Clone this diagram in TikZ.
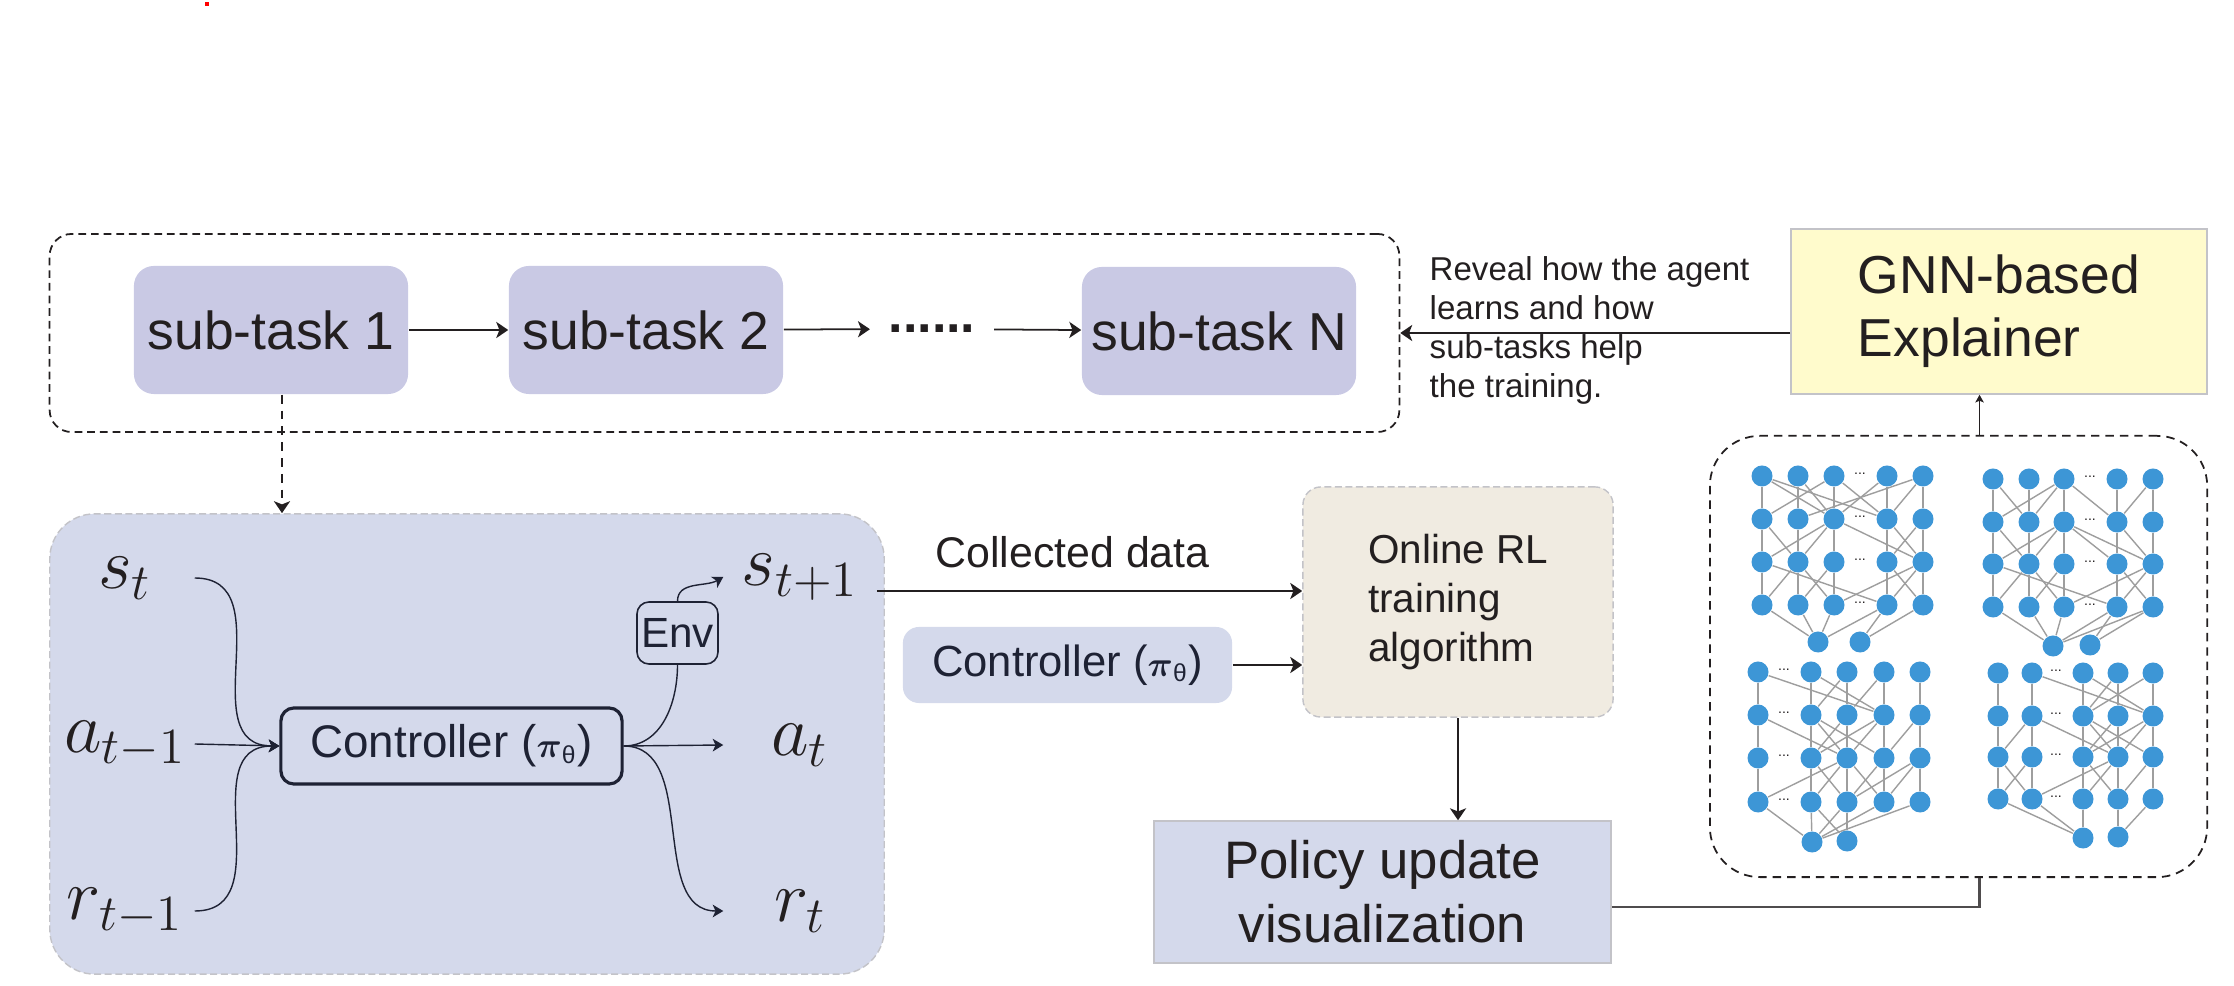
\documentclass[tikz,border=0pt]{standalone}
\usepackage{amsmath}
\usepackage[no-math]{fontspec}
\setmainfont{Liberation Sans}
\usetikzlibrary{arrows.meta, positioning, backgrounds}

\definecolor{taskfill}{RGB}{201,201,228}
\definecolor{panelfill}{RGB}{212,217,235}
\definecolor{panelline}{RGB}{195,195,200}
\definecolor{rlfill}{RGB}{240,235,225}
\definecolor{gnnfill}{RGB}{255,251,204}
\definecolor{nodeblue}{RGB}{61,150,214}
\definecolor{edgegray}{RGB}{158,158,158}
\definecolor{inkdark}{RGB}{35,31,32}
\definecolor{inknavy}{RGB}{30,34,52}

\tikzset{
  arr/.style={-{Stealth[length=3.4pt,width=4.6pt,inset=0.9pt]}, line width=0.5pt, draw=inkdark},
  thinarr/.style={-{Stealth[length=3pt,width=3.6pt,inset=0.8pt]}, line width=0.4pt, draw=inknavy},
  smallarr/.style={-{Stealth[length=2.2pt,width=2.4pt,inset=0.5pt]}, line width=0.35pt, draw=inkdark},
  taskframe/.style={draw=inkdark, line width=0.5pt, dash pattern=on 2.2pt off 1.4pt, rounded corners=0.22cm, minimum width=13.49cm, minimum height=1.98cm, inner sep=0pt},
  subtask/.style={fill=taskfill, rounded corners=0.2cm, minimum width=2.74cm, minimum height=1.28cm, inner sep=0pt, text=inkdark, font=\fontsize{15.2pt}{17pt}\selectfont},
  dotsnode/.style={inner ysep=0pt, inner xsep=0.18cm, text=inkdark, font=\bfseries\fontsize{14.8pt}{17pt}\selectfont},
  panel/.style={fill=panelfill, draw=panelline, dash pattern=on 2pt off 1pt, line width=0.4pt, rounded corners=0.45cm, minimum width=8.34cm, minimum height=4.60cm, inner sep=0pt},
  leftlbl/.style={minimum width=1.38cm, inner sep=0pt, text=inkdark, font=\fontsize{20pt}{24pt}\selectfont},
  rightlbl/.style={minimum width=1.52cm, inner sep=0pt, text=inkdark, font=\fontsize{20pt}{24pt}\selectfont},
  ctrlbox/.style={draw=inknavy, line width=0.9pt, rounded corners=0.13cm, minimum width=3.41cm, minimum height=0.76cm, inner sep=0pt, text=inknavy, font=\fontsize{13pt}{15pt}\selectfont},
  envbox/.style={draw=inknavy, line width=0.45pt, rounded corners=0.12cm, minimum width=0.81cm, minimum height=0.62cm, inner sep=0pt, text=inknavy, font=\fontsize{12pt}{14pt}\selectfont},
  ctrlbox2/.style={fill=panelfill, rounded corners=0.16cm, minimum width=3.29cm, minimum height=0.76cm, inner sep=0pt, text=inknavy, font=\fontsize{12.4pt}{14pt}\selectfont},
  rlbox/.style={fill=rlfill, draw=panelline, dash pattern=on 2pt off 1pt, line width=0.4pt, rounded corners=0.18cm, minimum width=3.10cm, minimum height=2.30cm, align=left, text=inkdark, font=\fontsize{11.5pt}{13.9pt}\selectfont},
  policybox/.style={fill=panelfill, draw=panelline, line width=0.4pt, minimum width=4.57cm, minimum height=1.42cm, align=center, text=inkdark, font=\fontsize{15pt}{18.2pt}\selectfont},
  gnnbox/.style={fill=gnnfill, draw=panelline, line width=0.4pt, minimum width=4.16cm, minimum height=1.65cm, align=left, text=inkdark, font=\fontsize{15.2pt}{17.9pt}\selectfont},
  notetext/.style={align=left, inner sep=0pt, text=inkdark, font=\fontsize{9.4pt}{11.1pt}\selectfont},
  graphframe/.style={draw=inkdark, line width=0.5pt, dash pattern=on 2.4pt off 1.7pt, rounded corners=0.5cm, minimum width=4.97cm, minimum height=4.41cm, inner sep=0pt},
  gnode/.style={circle, fill=nodeblue, minimum size=0.21cm, inner sep=0pt},
  gedge/.style={draw=edgegray, line width=0.4pt},
  gdots/.style={inner sep=0pt, text=inkdark, font=\fontsize{4pt}{5pt}\selectfont}
}

\newcommand{\ctrltext}{Controller ({\fontsize{10pt}{11pt}\selectfont$\boldsymbol{\pi}$\textsubscript{θ}})}

\begin{document}
\begin{tikzpicture}[x=0.01cm, y=0.01cm]
\useasboundingbox (0,0) rectangle (2234,985);
\fill[red] (205,979) rectangle (209,983);

% sub-task chain
\node[taskframe] (tasks) at (724.5,652) {};
\node[subtask] (st1) at (271,655) {sub-task 1};
\node[subtask] (st2) at (646,655) {sub-task 2};
\node[dotsnode] (dots) at (932,656) {......};
\node[subtask] (stN) at (1219,654) {sub-task N};
\draw[arr] (st1) -- (st2);
\draw[arr] (st2) -- (dots);
\draw[arr] (dots) -- (stN);

% explainer
\node[gnnbox] (gnn) at (1999,673.5) {GNN-based\\Explainer};
\node[notetext, anchor=north west] (reveal) at (1429,729) {Reveal how the agent\\learns and how\\sub-tasks help\\the training.};
\draw[arr] (gnn.west |- tasks.east) -- (tasks.east);

% agent loop
\node[panel] (panel) at (467,241) {};
\draw[arr, dash pattern=on 2.5pt off 2pt] ([xshift=0.11cm]st1.south) -- ([xshift=0.11cm]st1.south |- panel.north);
\node[leftlbl] (st) at (125,407) {$s_t$};
\node[leftlbl] (am) at (125,241) {$a_{t-1}$};
\node[leftlbl] (rm) at (125,74) {$r_{t-1}$};
\node[ctrlbox] (ctrl) at (451.5,239) {\ctrltext};
\node[envbox] (env) at (677.5,352) {Env};
\node[rightlbl] (stp) at (800,408) {$s_{t+1}$};
\node[rightlbl] (at) at (800,240) {$a_t$};
\node[rightlbl] (rt) at (800,74) {$r_t$};
\draw[thinarr] (st.east) to[out=0, in=180, looseness=1.2] (ctrl.west);
\draw[thinarr] (am.east) -- (ctrl.west);
\draw[thinarr] (rm.east) to[out=0, in=180, looseness=1.2] (ctrl.west);
\draw[thinarr] (ctrl.east) -- (at.west);
\draw[thinarr] (ctrl.east) to[out=0, in=180] (rt.west);
\draw[inknavy, line width=0.4pt] (ctrl.east) to[out=0, in=-90] (env.south);
\draw[thinarr] (env.north) to[out=90, in=210] (stp.west);

% training
\node[rlbox] (online) at (1458,383) {Online RL\\training\\algorithm};
\node[ctrlbox2] (ctrl2) at (1067.5,320) {\ctrltext};
\node[policybox] (policy) at (1382.5,93) {Policy update\\visualization};
\coordinate (cd) at ([yshift=-0.14cm]stp.east);
\draw[arr] (cd) -- node[pos=0.46, above=0.22cm, inner sep=0pt, text=inkdark, font=\fontsize{12.2pt}{14pt}\selectfont] (cdlabel) {Collected data} (cd -| online.west);
\draw[arr] (ctrl2.east) -- (ctrl2.east -| online.west);
\draw[arr] (online.south) -- (online.south |- policy.north);

% graph panel
\node[graphframe] (graphs) at (1958.5,328.5) {};
\draw[draw=inkdark!80, line width=0.6pt] ([yshift=-0.15cm]policy.east) -| ([xshift=0.21cm]graphs.south);
\draw[smallarr] ([xshift=0.21cm]graphs.north) -- ([xshift=0.21cm]graphs.north |- gnn.south);

\foreach \g/\xa/\xb/\xc/\xd/\xe/\ya/\yb/\yc/\yd in {
  1/1762/1798/1834/1887/1923/509/466/423/380,
  2/1993/2029/2064/2117/2153/506/463/421/378,
  3/1758/1811/1847/1884/1920/313/270/227/183,
  4/1998/2032/2083/2118/2153/312/269/228/186}{
  \foreach \c/\x in {1/\xa,2/\xb,3/\xc,4/\xd,5/\xe}
    \foreach \r/\y in {1/\ya,2/\yb,3/\yc,4/\yd}
      \node[gnode] (g\g-\r-\c) at (\x,\y) {};
}
\foreach \g/\xa/\ya/\xb/\yb in {1/1818/343/1860/343, 2/2053/339/2090/340, 3/1812/143/1847/144, 4/2083/147/2118/148}{
  \node[gnode] (g\g-b1) at (\xa,\ya) {};
  \node[gnode] (g\g-b2) at (\xb,\yb) {};
}
\foreach \g/\x/\ya/\yb/\yc/\yd in {1/1860/509/466/423/380, 2/2090/506/463/421/378, 3/1784/313/270/227/183, 4/2056/312/269/228/186}
  \foreach \r/\y in {1/\ya,2/\yb,3/\yc,4/\yd}
    \node[gdots] (g\g-d\r) at (\x,\y+2) {...};

\begin{scope}[on background layer]
\foreach \g in {1,...,4}
  \foreach \c in {1,...,5}
    \draw[gedge] (g\g-1-\c) -- (g\g-2-\c) -- (g\g-3-\c) -- (g\g-4-\c);
% graph 1
\foreach \a/\b in {1-1/2-4, 1-1/2-3, 2-1/1-3, 2-2/1-5, 1-2/2-3, 1-4/2-3, 1-5/2-4, 1-3/2-4,
  2-1/3-2, 2-3/3-1, 2-3/3-2, 2-3/3-5, 2-5/3-4, 2-4/3-5,
  3-1/4-4, 3-2/4-1, 3-2/4-3, 3-3/4-2, 3-5/4-3, 3-5/4-4, 3-4/4-5,
  4-1/b1, 4-2/b1, 4-3/b1, 4-4/b1, 4-4/b2, 4-5/b2}
  \draw[gedge] (g1-\a) -- (g1-\b);
% graph 2
\foreach \a/\b in {1-1/2-2, 1-3/2-1, 1-3/2-2, 1-3/2-4, 1-5/2-4,
  2-1/3-2, 2-3/3-1, 2-3/3-2, 2-3/3-4, 2-3/3-5, 2-4/3-5,
  3-1/4-4, 3-2/4-1, 3-3/4-2, 3-2/4-3, 3-5/4-3, 3-4/4-5, 3-5/4-4,
  4-1/b1, 4-2/b1, 4-3/b1, 4-4/b1, 4-5/b1, 4-4/b2, 4-5/b2}
  \draw[gedge] (g2-\a) -- (g2-\b);
% graph 3
\foreach \a/\b in {1-1/2-4, 1-2/2-4, 1-3/2-2, 1-4/2-3,
  2-1/3-3, 2-2/3-3, 2-2/3-4, 2-3/3-2, 2-4/3-2, 2-4/3-3, 2-5/3-4,
  3-3/4-1, 3-2/4-3, 3-3/4-2, 3-3/4-4, 3-4/4-3, 3-5/4-3, 3-5/4-4,
  4-1/b1, 4-2/b1, 4-2/b2, 4-3/b1, 4-3/b2, 4-4/b1, 4-5/b1}
  \draw[gedge] (g3-\a) -- (g3-\b);
% graph 4
\foreach \a/\b in {1-2/2-5, 1-3/2-5, 1-4/2-3, 1-5/2-3,
  2-2/3-1, 2-2/3-4, 2-3/3-4, 2-3/3-5, 2-4/3-3, 2-5/3-3, 2-5/3-4,
  3-1/4-2, 3-2/4-1, 3-3/4-4, 3-4/4-2, 3-4/4-3, 3-5/4-4,
  4-1/b1, 4-2/b1, 4-3/b1, 4-4/b2, 4-5/b2}
  \draw[gedge] (g4-\a) -- (g4-\b);
\end{scope}
\end{tikzpicture}
\end{document}
